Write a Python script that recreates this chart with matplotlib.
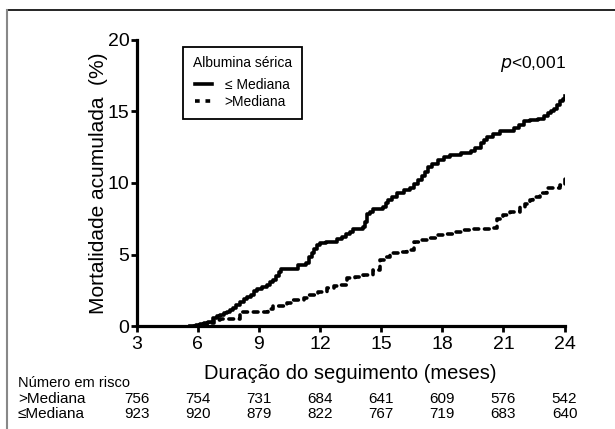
import matplotlib.pyplot as plt
from matplotlib.lines import Line2D
from matplotlib.transforms import blended_transform_factory

plt.rcParams['font.family'] = ['Liberation Sans', 'DejaVu Sans']

# <= Mediana (solid)
t_low = [5.6, 5.9, 6.1, 6.3, 6.5, 6.76, 6.95, 7.1, 7.3, 7.45, 7.6, 7.74, 7.9, 8.08,
         8.25, 8.42, 8.6, 8.75, 8.9, 9.15, 9.4, 9.55, 9.7, 9.85, 10.0, 10.1, 10.9,
         11.3, 11.45, 11.6, 11.7, 11.85, 12.0, 12.3, 12.65, 12.85, 13.1, 13.3, 13.45,
         13.6, 14.1, 14.2, 14.3, 14.45, 14.6, 15.1, 15.25, 15.35, 15.55, 15.8, 16.1,
         16.4, 16.6, 16.8, 17.0, 17.15, 17.3, 17.5, 17.8, 18.1, 18.4, 18.9, 19.4,
         19.6, 19.9, 20.05, 20.2, 20.5, 20.85, 21.5, 21.75, 22.0, 22.3, 22.7, 23.0,
         23.2, 23.35, 23.5, 23.65, 23.8, 23.9, 24.0]
y_low = [0.0, 0.05, 0.15, 0.2, 0.3, 0.56, 0.7, 0.8, 0.9, 1.0, 1.15, 1.26, 1.5, 1.7,
         1.9, 2.0, 2.2, 2.45, 2.6, 2.75, 2.9, 3.05, 3.2, 3.5, 3.75, 4.0, 4.3,
         4.4, 4.8, 5.1, 5.4, 5.65, 5.8, 5.85, 5.9, 6.05, 6.2, 6.4, 6.6,
         6.8, 6.9, 7.3, 7.8, 8.0, 8.2, 8.3, 8.6, 8.8, 9.0, 9.3, 9.5,
         9.65, 9.9, 10.2, 10.5, 10.8, 11.1, 11.35, 11.6, 11.8, 11.95, 12.1, 12.2,
         12.45, 12.8, 13.0, 13.2, 13.4, 13.6, 13.85, 14.05, 14.3, 14.4, 14.5, 14.7,
         14.9, 15.05, 15.2, 15.45, 15.7, 15.9, 16.1]

# > Mediana (dashed)
t_high = [5.8, 6.2, 6.45, 6.8, 7.1, 8.1, 9.45, 9.7, 10.4, 10.7, 11.2, 11.4, 11.9,
          12.35, 12.7, 13.0, 13.35, 13.7, 14.1, 14.6, 14.95, 15.2, 15.45, 15.9,
          16.25, 16.6, 17.0, 17.4, 17.75, 18.1, 18.55, 19.0, 19.35, 20.45, 20.7,
          21.0, 21.3, 21.8, 22.05, 22.3, 22.45, 22.8, 23.15, 23.8, 24.0]
y_high = [0.0, 0.1, 0.2, 0.4, 0.5, 1.0, 1.2, 1.4, 1.6, 1.8, 1.95, 2.2, 2.4,
          2.65, 2.8, 2.9, 3.35, 3.45, 3.55, 3.9, 4.6, 4.85, 5.1, 5.2,
          5.3, 5.9, 6.0, 6.15, 6.35, 6.45, 6.6, 6.7, 6.8, 6.85, 7.5,
          7.75, 8.0, 8.3, 8.55, 8.8, 9.0, 9.3, 9.65, 9.85, 10.35]

risk_times = [3, 6, 9, 12, 15, 18, 21, 24]
risk_high = [756, 754, 731, 684, 641, 609, 576, 542]
risk_low = [923, 920, 879, 822, 767, 719, 683, 640]

fig = plt.figure(figsize=(6.15, 4.29), dpi=100)
ax = fig.add_axes([0.222, 0.240, 0.696, 0.667])

ax.plot(t_low, y_low, color='black', lw=2.6, drawstyle='steps-post',
        solid_joinstyle='round')
ax.plot(t_high, y_high, color='black', lw=2.6, drawstyle='steps-post',
        linestyle=(0, (1.3, 1.6)), dash_capstyle='round')

ax.set_xlim(3, 24)
ax.set_ylim(0, 20)
ax.set_xticks(risk_times)
ax.set_yticks([0, 5, 10, 15, 20])
for s in ['top', 'right']:
    ax.spines[s].set_visible(False)
for s in ['left', 'bottom']:
    ax.spines[s].set_linewidth(2.3)
ax.tick_params(width=2, length=4, labelsize=14, pad=1)
ax.tick_params(axis='x', pad=3)

ax.set_xlabel('Duração do seguimento (meses)', fontsize=14.5, labelpad=8)
ax.set_ylabel('Mortalidade acumulada  (%)', fontsize=15, labelpad=0)

handles = [Line2D([], [], color='black', lw=2.6),
           Line2D([], [], color='black', lw=2.6, linestyle=(0, (1.3, 1.6)))]
leg = ax.legend(handles, ['≤ Mediana', '>Mediana'], title='Albumina sérica',
                loc='upper left', bbox_to_anchor=(0.109, 0.976), borderaxespad=0,
                fontsize=10, title_fontsize=10, handlelength=1.2,
                fancybox=False, edgecolor='black', framealpha=1,
                borderpad=0.7, labelspacing=0.2, handletextpad=0.9)
leg._legend_box.sep = 5.5
leg.get_frame().set_linewidth(1.3)

ax.text(0.926, 0.916, r'$p$<0,001', transform=ax.transAxes, fontsize=12.5,
        ha='center', va='center')

# risk table
tr = blended_transform_factory(ax.transData, fig.transFigure)
fig.text(18 / 615, 1 - 383 / 429, 'Número em risco', fontsize=10.5, va='center')
fig.text(18 / 615, 1 - 399 / 429, '>Mediana', fontsize=11, va='center')
fig.text(18 / 615, 1 - 414 / 429, '≤Mediana', fontsize=11, va='center')
for t, a, b in zip(risk_times, risk_high, risk_low):
    ax.text(t, 1 - 399 / 429, str(a), transform=tr, fontsize=11,
            ha='center', va='center', clip_on=False)
    ax.text(t, 1 - 414 / 429, str(b), transform=tr, fontsize=11,
            ha='center', va='center', clip_on=False)

# frame lines at top and left
fig.add_artist(Line2D([7 / 615, 1], [1 - 10 / 429, 1 - 10 / 429], color='black',
                      lw=1.2, transform=fig.transFigure))
fig.add_artist(Line2D([7 / 615, 7 / 615], [0, 1 - 10 / 429], color='#888888',
                      lw=1.5, transform=fig.transFigure))

fig.savefig('out.png', dpi=100)
